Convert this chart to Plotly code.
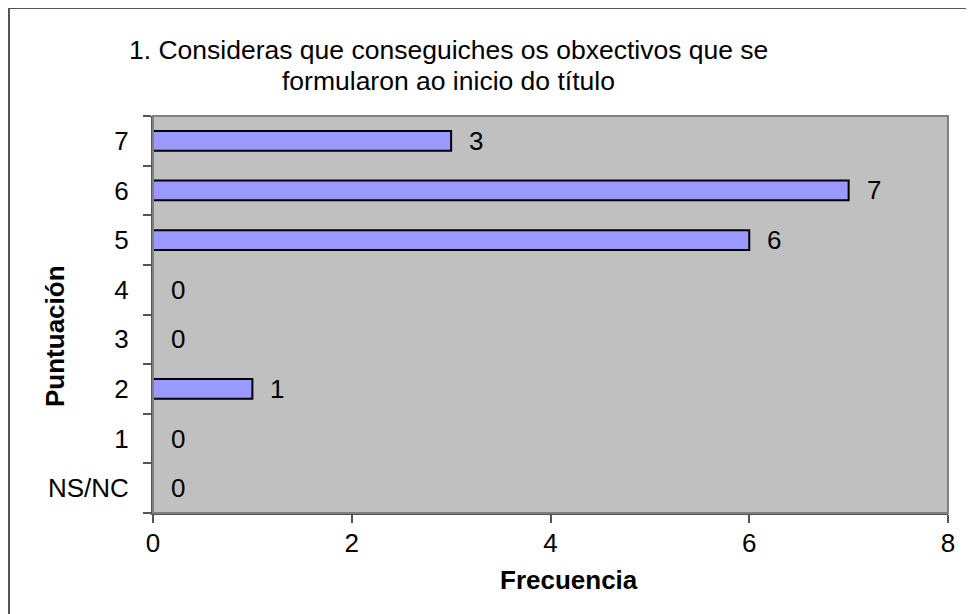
import plotly.graph_objects as go

categories = ["NS/NC", "1", "2", "3", "4", "5", "6", "7"]
frequencies = [0, 0, 1, 0, 0, 6, 7, 3]
x_ticks = [0, 2, 4, 6, 8]
title_lines = ["1. Consideras que conseguiches os obxectivos que se", "formularon ao inicio do título"]
x_title = "Frecuencia"
y_title = "Puntuación"

FONT = "Arial, Liberation Sans, sans-serif"
FS = 26

# page body has an 8px margin; figure extends past the window so its edge is not seen
OFF = 8
W, H = 1000, 640
L, T = 153 - OFF, 116 - OFF
R = W - (948 - OFF)
B = H - (513 - OFF)
pw, ph = W - L - R, H - T - B


def sx(px):
    return (px - OFF - L) / pw


def sy(py):
    return (H - B - (py - OFF)) / ph


fig = go.Figure()
fig.add_trace(go.Bar(
    x=frequencies, y=categories, orientation="h", width=0.4,
    marker=dict(color="#9999FF", line=dict(color="black", width=2)),
    hoverinfo="skip",
))

for v, c in zip(frequencies, categories):
    fig.add_annotation(x=v, y=c, xref="x", yref="y", text=str(v), showarrow=False,
                       xanchor="left", yanchor="middle", xshift=16,
                       font=dict(family=FONT, size=FS, color="black"))

# title (two centred lines)
for line, cy in zip(title_lines, [50, 81]):
    fig.add_annotation(x=sx(448), y=sy(cy), xref="paper", yref="paper", text=line,
                       showarrow=False, xanchor="center", yanchor="middle",
                       font=dict(family=FONT, size=26.5, color="black"))

# axis titles
fig.add_annotation(x=sx(569), y=sy(580), xref="paper", yref="paper",
                   text="<b>" + x_title + "</b>", showarrow=False,
                   xanchor="center", yanchor="middle",
                   font=dict(family=FONT, size=FS, color="black"))
fig.add_annotation(x=sx(55), y=sy(336), xref="paper", yref="paper",
                   text="<b>" + y_title + "</b>", showarrow=False, textangle=-90,
                   xanchor="center", yanchor="middle",
                   font=dict(family=FONT, size=FS, color="black"))

# plot border (light gray top/right)
fig.add_shape(type="rect", xref="paper", yref="paper", x0=0, y0=0, x1=1, y1=1,
              line=dict(color="#808080", width=2), layer="above")
# outer chart frame (only left and top edges are visible)
fig.add_shape(type="line", xref="paper", yref="paper",
              x0=sx(9), y0=sy(8), x1=sx(9), y1=sy(640),
              line=dict(color="#555555", width=2), layer="above")
fig.add_shape(type="line", xref="paper", yref="paper",
              x0=sx(8), y0=sy(8), x1=sx(1000), y1=sy(8),
              line=dict(color="#555555", width=2), layer="above")

fig.update_layout(
    width=W, height=H,
    margin=dict(l=L, r=R, t=T, b=B, pad=0),
    paper_bgcolor="white", plot_bgcolor="#C0C0C0",
    showlegend=False,
    font=dict(family=FONT, size=FS, color="black"),
)
fig.update_xaxes(range=[0, 8], tickvals=x_ticks, ticks="outside", ticklen=8, tickcolor="#555555",
                 tickwidth=1.5, showgrid=False, zeroline=False, showline=True, linecolor="#555555",
                 linewidth=2, ticklabelstandoff=-2,
                 tickfont=dict(family=FONT, size=FS, color="black"))
fig.update_yaxes(type="category", categoryorder="array", categoryarray=categories,
                 ticks="outside", ticklen=8, tickcolor="#555555", tickwidth=1.5,
                 tickson="boundaries", showgrid=False, zeroline=False, showline=True,
                 linecolor="#555555", linewidth=2, ticklabelstandoff=17,
                 tickfont=dict(family=FONT, size=FS, color="black"))

fig.write_html("out.html")
